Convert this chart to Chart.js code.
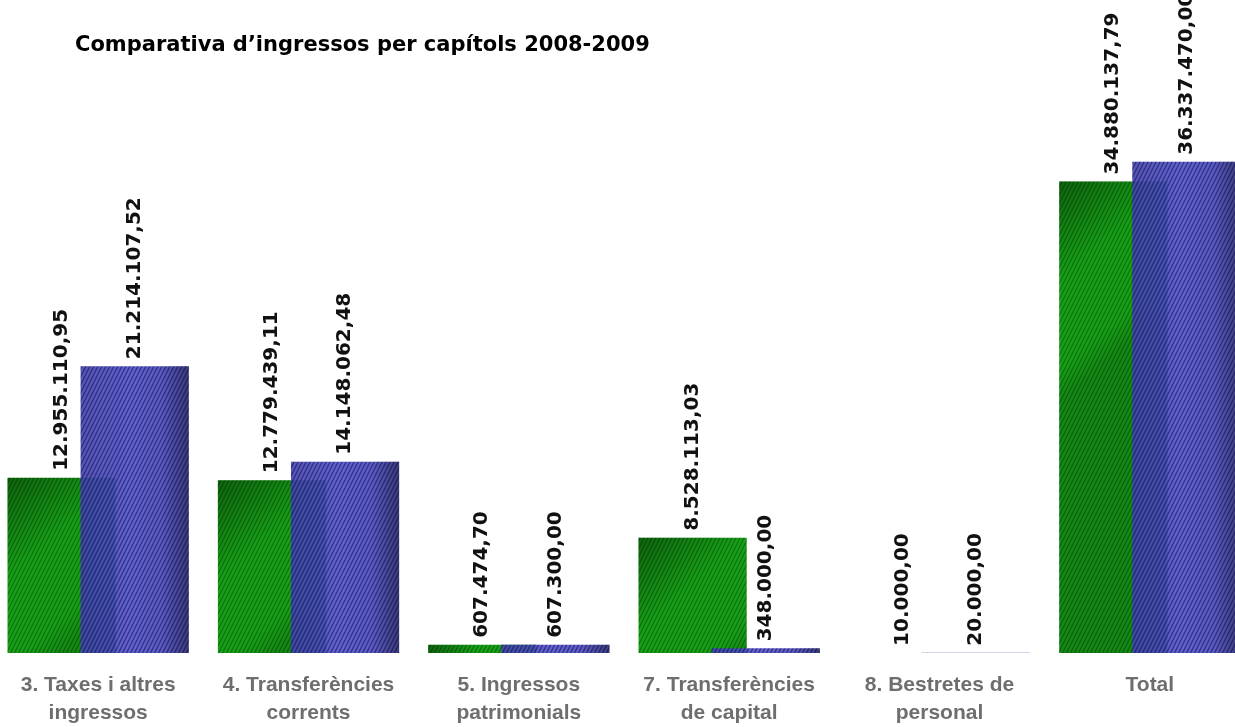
<!DOCTYPE html>
<html>
<head>
<meta charset="utf-8">
<title>Comparativa d'ingressos per capítols 2008-2009</title>
<script src="https://cdn.jsdelivr.net/npm/chart.js@4.4.1/dist/chart.umd.min.js"></script>
<style>
  html, body { margin: 0; padding: 0; background: #fff; overflow: hidden; }
  body { width: 1235px; height: 727px; position: relative; }
  #title {
    position: absolute; left: 75px; top: 34px; z-index: 2;
    font: bold 21px/1 "DejaVu Sans", Verdana, sans-serif; color: #000;
    white-space: nowrap;
  }
  #wrap { position: absolute; left: -7px; top: 0; width: 1262px; height: 745px; }
</style>
</head>
<body>
<div id="title">Comparativa d’ingressos per capítols 2008-2009</div>
<div id="wrap"><canvas id="chart"></canvas></div>
<script>
// Ingressos per capítols, 2008 vs 2009 (euros)
const categories = [
  ["3. Taxes i altres", "ingressos"],
  ["4. Transferències", "corrents"],
  ["5. Ingressos", "patrimonials"],
  ["7. Transferències", "de capital"],
  ["8. Bestretes de", "personal"],
  ["Total"],
];
const values2008 = [12955110.95, 12779439.11, 607474.70, 8528113.03, 10000.00, 34880137.79];
const values2009 = [21214107.52, 14148062.48, 607300.00, 348000.00, 20000.00, 36337470.00];

// 1.234.567,89 style
function fmtEuro(v) {
  const parts = v.toFixed(2).split(".");
  const int = parts[0].replace(/\B(?=(\d{3})+(?!\d))/g, ".");
  return int + "," + parts[1];
}

// fine diagonal stripes, like the old office chart fill
function makePattern(base, dark, light) {
  const c = document.createElement("canvas");
  c.width = 4;
  c.height = 8;
  const g = c.getContext("2d");
  g.fillStyle = base;
  g.fillRect(0, 0, 4, 8);
  g.lineWidth = 1.2;
  g.strokeStyle = dark;
  for (let k = -1; k <= 1; k++) {
    g.beginPath();
    g.moveTo(k * 4, 8);
    g.lineTo(k * 4 + 4, 0);
    g.stroke();
  }
  if (light) {
    g.strokeStyle = light;
    g.lineWidth = 0.8;
    for (let k = -1; k <= 1; k++) {
      g.beginPath();
      g.moveTo(k * 4 + 2, 8);
      g.lineTo(k * 4 + 6, 0);
      g.stroke();
    }
  }
  return g.createPattern(c, "repeat");
}

const greenFill = makePattern("#17a017", "#0e6e0e", null);
const blueFill = makePattern("rgba(66,66,184,0.86)", "rgba(40,40,140,0.86)", "rgba(110,110,215,0.7)");

function shadeBars(chart, meta, kind) {
  const ctx = chart.ctx;
  meta.data.forEach((el) => {
    const p = el.getProps(["x", "y", "base", "width"], true);
    const x0 = p.x - p.width / 2;
    const top = Math.min(p.y, p.base);
    const h = Math.abs(p.base - p.y);
    if (h < 1) return;
    let grad;
    if (kind === "green") {
      grad = ctx.createLinearGradient(x0, top, x0 + p.width, top + Math.min(h, p.width * 1.2));
      grad.addColorStop(0, "rgba(0,0,0,0.38)");
      grad.addColorStop(0.45, "rgba(0,0,0,0)");
      grad.addColorStop(0.85, "rgba(0,0,0,0)");
      grad.addColorStop(1, "rgba(0,0,0,0.15)");
    } else {
      grad = ctx.createLinearGradient(x0, 0, x0 + p.width, 0);
      grad.addColorStop(0, "rgba(0,0,0,0.12)");
      grad.addColorStop(0.45, "rgba(0,0,0,0)");
      grad.addColorStop(0.75, "rgba(0,0,0,0.05)");
      grad.addColorStop(1, "rgba(0,0,0,0.4)");
    }
    ctx.save();
    ctx.fillStyle = grad;
    ctx.fillRect(x0, top, p.width, h);
    ctx.restore();
  });
}

function drawValueLabels(chart) {
  const ctx = chart.ctx;
  ctx.save();
  ctx.font = "bold 20px 'DejaVu Sans', Verdana, sans-serif";
  ctx.fillStyle = "#111";
  ctx.textAlign = "left";
  ctx.textBaseline = "middle";
  chart.data.datasets.forEach((ds, di) => {
    const meta = chart.getDatasetMeta(di);
    meta.data.forEach((el, i) => {
      const p = el.getProps(["x", "y"], true);
      ctx.save();
      ctx.translate(p.x, p.y - 7);
      ctx.rotate(-Math.PI / 2);
      ctx.fillText(fmtEuro(ds.data[i]), 0, 0);
      ctx.restore();
    });
  });
  ctx.restore();
}

// grouped bars overlap; the 2009 (right) bar must sit on top of 2008
const layerPlugin = {
  id: "layerPlugin",
  beforeDatasetDraw(chart, args) {
    if (args.index === 1) return false;
  },
  afterDatasetDraw(chart, args) {
    if (args.index === 0) shadeBars(chart, args.meta, "green");
  },
  afterDatasetsDraw(chart) {
    const meta = chart.getDatasetMeta(1);
    const area = chart.chartArea;
    const ctx = chart.ctx;
    ctx.save();
    ctx.beginPath();
    ctx.rect(area.left, area.top, area.right - area.left, area.bottom - area.top);
    ctx.clip();
    meta.controller.draw();
    shadeBars(chart, meta, "blue");
    ctx.restore();
    drawValueLabels(chart);
  },
};

new Chart(document.getElementById("chart"), {
  type: "bar",
  data: {
    labels: categories,
    datasets: [
      { label: "2008", data: values2008, backgroundColor: greenFill, borderWidth: 0 },
      { label: "2009", data: values2009, backgroundColor: blueFill, borderWidth: 0 },
    ],
  },
  options: {
    responsive: true,
    maintainAspectRatio: false,
    animation: false,
    categoryPercentage: 0.695,
    barPercentage: 1.48,
    layout: { padding: 0 },
    plugins: {
      legend: { display: false },
      tooltip: { enabled: false },
      title: { display: false },
    },
    scales: {
      x: {
        grid: { display: false, drawTicks: false },
        border: { display: false },
        ticks: {
          autoSkip: false,
          maxRotation: 0,
          minRotation: 0,
          padding: 18,
          color: "#6e6e6e",
          font: { family: "'Liberation Sans', Arial, sans-serif", size: 21, weight: "bold", lineHeight: 1.333 },
        },
      },
      y: {
        display: false,
        min: 0,
        max: 48300000,
      },
    },
  },
  plugins: [layerPlugin],
});
</script>
</body>
</html>
